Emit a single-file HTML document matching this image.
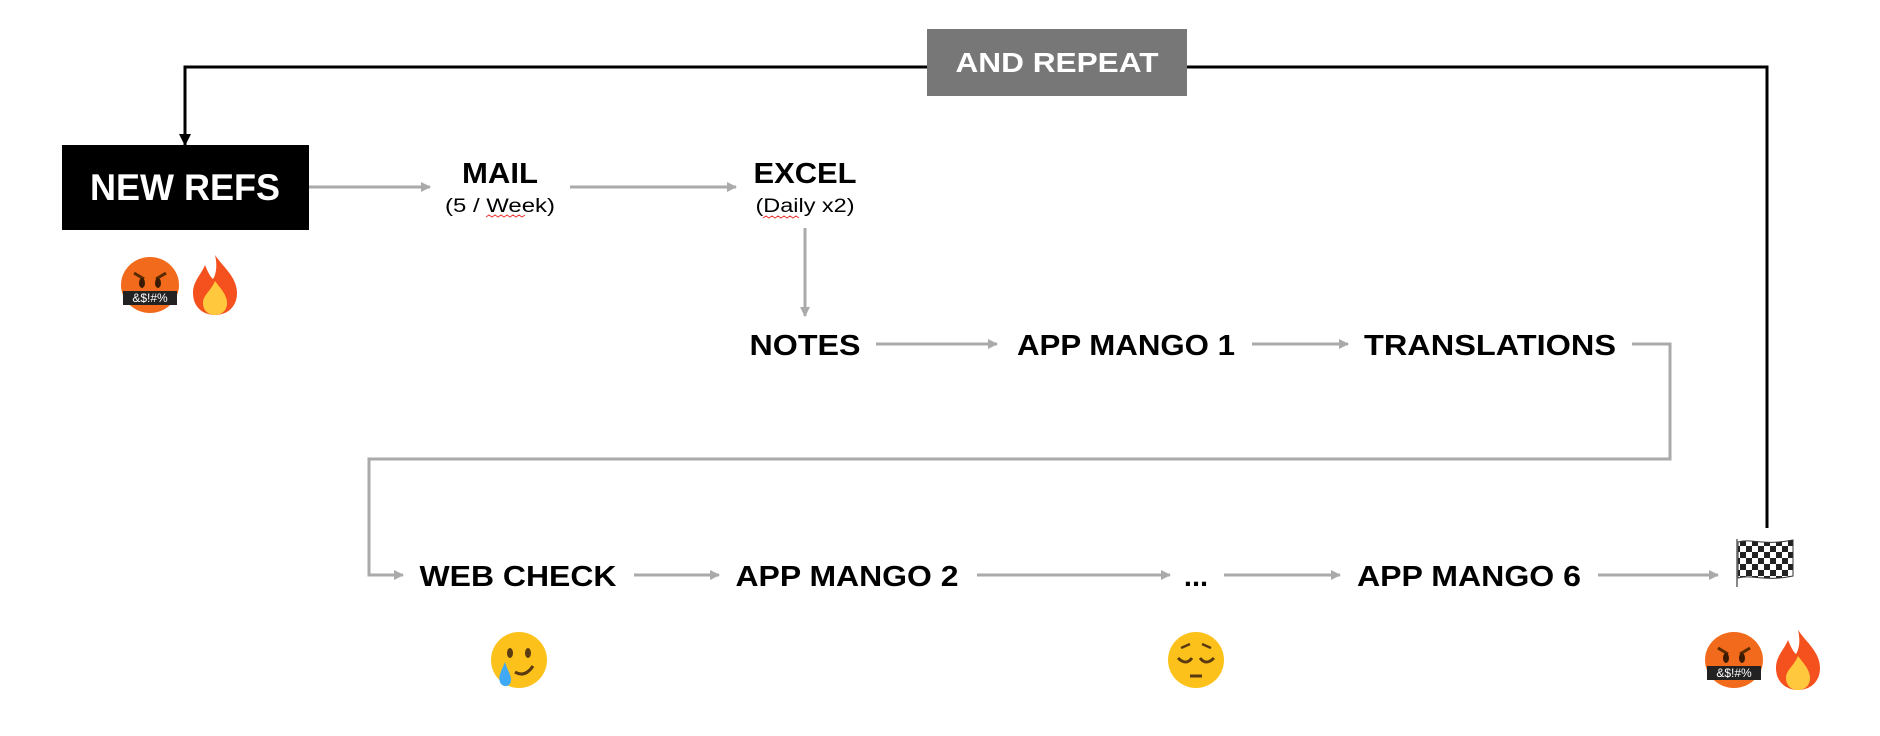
<!DOCTYPE html>
<html><head><meta charset="utf-8"><style>
html,body{margin:0;padding:0;background:#fff;}
svg{display:block;}
text{font-family:"Liberation Sans",Arial,sans-serif;}
.b{font-weight:bold;fill:#000;}
</style></head><body>
<svg width="1880" height="736" viewBox="0 0 1880 736" xmlns="http://www.w3.org/2000/svg">
<defs>
<marker id="ag" markerWidth="10" markerHeight="10" refX="9" refY="5" orient="auto" markerUnits="userSpaceOnUse"><path d="M0,0 L10,5 L0,10 Z" fill="#aaa"/></marker>
<marker id="ab" markerWidth="12" markerHeight="12" refX="11" refY="6" orient="auto" markerUnits="userSpaceOnUse"><path d="M0,0 L12,6 L0,12 Z" fill="#000"/></marker>
<pattern id="chk" width="12" height="12" patternUnits="userSpaceOnUse"><rect width="12" height="12" fill="#fff"/><rect width="6" height="6" fill="#222"/><rect x="6" y="6" width="6" height="6" fill="#222"/></pattern>
<g id="curse">
<ellipse cx="0" cy="0" rx="29" ry="28" fill="#f26a1b"/>
<path d="M-16,-12 L-6,-6 M16,-12 L6,-6" stroke="#5a2a00" stroke-width="3"/>
<ellipse cx="-8" cy="-2" rx="3" ry="5" fill="#3a1a00"/><ellipse cx="8" cy="-2" rx="3" ry="5" fill="#3a1a00"/>
<rect x="-27" y="6" width="54" height="14" fill="#222"/>
<text x="0" y="17" font-size="12" fill="#fff" text-anchor="middle">&amp;$!#%</text>
</g>
<g id="fire">
<path d="M0,-30 C8,-18 22,-8 22,8 C22,22 12,30 0,30 C-12,30 -22,22 -22,8 C-22,-4 -14,-10 -10,-20 C-6,-10 -4,-8 -2,-6 C2,-12 2,-22 0,-30 Z" fill="#f4511e"/>
<path d="M0,-4 C6,4 12,10 12,18 C12,26 6,30 0,30 C-6,30 -12,26 -12,18 C-12,10 -4,6 0,-4 Z" fill="#ffc83d"/>
</g>
</defs>

<!-- loop black -->
<polyline points="927,67 185,67 185,145" fill="none" stroke="#000" stroke-width="3" marker-end="url(#ab)"/>
<polyline points="1187,67 1767,67 1767,528" fill="none" stroke="#000" stroke-width="3"/>
<rect x="927" y="29" width="260" height="67" fill="#777"/>
<text x="1057" y="72" font-size="28" font-weight="bold" fill="#fff" text-anchor="middle" textLength="203" lengthAdjust="spacingAndGlyphs">AND REPEAT</text>

<!-- NEW REFS -->
<rect x="62" y="145" width="247" height="85" fill="#000"/>
<text x="185" y="200" font-size="37" font-weight="bold" fill="#fff" text-anchor="middle" textLength="190" lengthAdjust="spacingAndGlyphs">NEW REFS</text>

<g stroke="#aaa" stroke-width="3" fill="none">
<line x1="309" y1="187" x2="430" y2="187" marker-end="url(#ag)"/>
<line x1="570" y1="187" x2="736" y2="187" marker-end="url(#ag)"/>
<line x1="805" y1="228" x2="805" y2="316" marker-end="url(#ag)"/>
<line x1="876" y1="344" x2="997" y2="344" marker-end="url(#ag)"/>
<line x1="1252" y1="344" x2="1348" y2="344" marker-end="url(#ag)"/>
<polyline points="1632,344 1670,344 1670,459 369,459 369,575 403,575" marker-end="url(#ag)"/>
<line x1="634" y1="575" x2="719" y2="575" marker-end="url(#ag)"/>
<line x1="977" y1="575" x2="1170" y2="575" marker-end="url(#ag)"/>
<line x1="1224" y1="575" x2="1340" y2="575" marker-end="url(#ag)"/>
<line x1="1598" y1="575" x2="1718" y2="575" marker-end="url(#ag)"/>
</g>

<text class="b" x="500" y="183" font-size="29" text-anchor="middle" textLength="76" lengthAdjust="spacingAndGlyphs">MAIL</text>
<text x="500" y="212" font-size="19" text-anchor="middle" textLength="110" lengthAdjust="spacingAndGlyphs">(5 / Week)</text>
<path d="M486,217 l3,-2 l3,2 l3,-2 l3,2 l3,-2 l3,2 l3,-2 l3,2 l3,-2 l3,2 l3,-2 l3,2 l3,-2" stroke="#e33" stroke-width="1" fill="none"/>
<text class="b" x="805" y="183" font-size="29" text-anchor="middle" textLength="103" lengthAdjust="spacingAndGlyphs">EXCEL</text>
<text x="805" y="212" font-size="19" text-anchor="middle" textLength="99" lengthAdjust="spacingAndGlyphs">(Daily x2)</text>
<path d="M763,218 l3,-2 l3,2 l3,-2 l3,2 l3,-2 l3,2 l3,-2 l3,2 l3,-2 l3,2 l3,-2 l3,2" stroke="#e33" stroke-width="1" fill="none"/>

<text class="b" x="805" y="355" font-size="29" text-anchor="middle" textLength="111" lengthAdjust="spacingAndGlyphs">NOTES</text>
<text class="b" x="1126" y="355" font-size="29" text-anchor="middle" textLength="218" lengthAdjust="spacingAndGlyphs">APP MANGO 1</text>
<text class="b" x="1490" y="355" font-size="29" text-anchor="middle" textLength="252" lengthAdjust="spacingAndGlyphs">TRANSLATIONS</text>

<text class="b" x="518" y="586" font-size="29" text-anchor="middle" textLength="197" lengthAdjust="spacingAndGlyphs">WEB CHECK</text>
<text class="b" x="847" y="586" font-size="29" text-anchor="middle" textLength="223" lengthAdjust="spacingAndGlyphs">APP MANGO 2</text>
<text class="b" x="1196" y="586" font-size="29" text-anchor="middle">...</text>
<text class="b" x="1469" y="586" font-size="29" text-anchor="middle" textLength="224" lengthAdjust="spacingAndGlyphs">APP MANGO 6</text>

<!-- flag -->
<line x1="1737" y1="539" x2="1737" y2="587" stroke="#888" stroke-width="2"/>
<path d="M1738,542 C1752,538 1762,546 1793,540 L1793,576 C1764,582 1752,574 1738,578 Z" fill="url(#chk)" stroke="#333" stroke-width="1"/>

<!-- emojis -->
<use href="#curse" x="150" y="285"/>
<use href="#fire" x="215" y="285"/>
<use href="#curse" x="1734" y="660"/>
<use href="#fire" x="1798" y="660"/>

<g transform="translate(519,660)">
<ellipse rx="28" ry="28" fill="#fcc21b"/>
<ellipse cx="-9" cy="-7" rx="3" ry="5" fill="#5a3a10"/><ellipse cx="9" cy="-7" rx="3" ry="5" fill="#5a3a10"/>
<path d="M-4,12 Q6,18 14,6" stroke="#5a3a10" stroke-width="3" fill="none"/>
<path d="M-14,2 C-18,12 -22,18 -18,24 C-14,28 -8,26 -8,20 C-8,14 -12,10 -14,2 Z" fill="#3fa9f5"/>
</g>
<g transform="translate(1196,660)">
<ellipse rx="28" ry="28" fill="#fcc21b"/>
<path d="M-18,-2 Q-10,6 -4,-2 M4,-2 Q10,6 18,-2" stroke="#5a3a10" stroke-width="3" fill="none"/>
<path d="M-15,-12 L-6,-16 M15,-12 L6,-16" stroke="#5a3a10" stroke-width="2.5"/>
<line x1="-6" y1="16" x2="6" y2="16" stroke="#5a3a10" stroke-width="3"/>
</g>
</svg>
</body></html>
